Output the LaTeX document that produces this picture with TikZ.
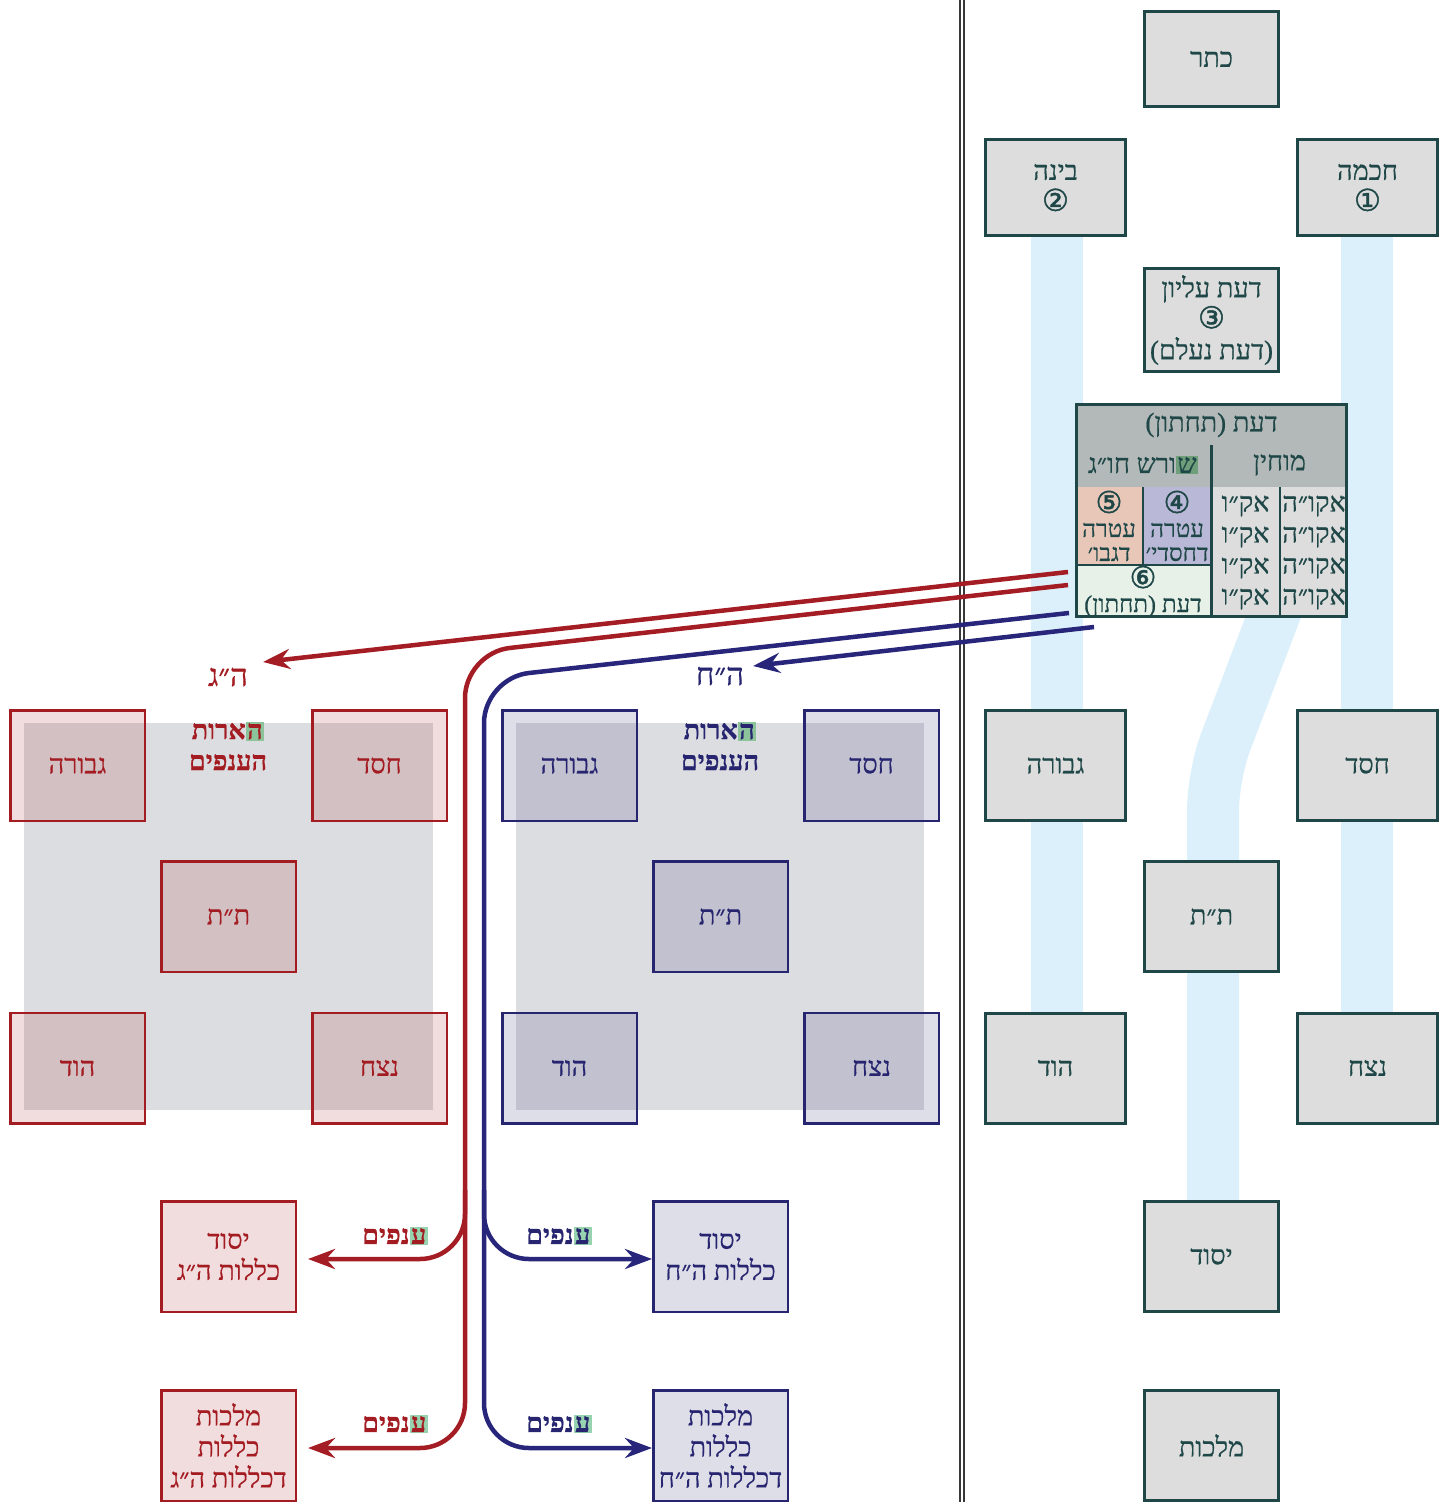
\documentclass[tikz,border=0pt]{standalone}
\usepackage{fontspec}
\usetikzlibrary{arrows.meta}
\TeXXeTstate=1
\newfontfamily\heb[Script=Hebrew, FakeBold=0.6]{Liberation Serif}
\newfontface\cnum[FakeBold=1.6]{DejaVu Sans}
\newcommand\heR[1]{\beginR#1\endR}
\newcommand\hlbox[2]{{\setlength{\fboxsep}{1.5pt}\colorbox{#1}{#2}}}
\newcommand\mainsize{\fontsize{27}{31}\selectfont}
\newcommand\cellsize{\fontsize{24}{24}\selectfont}
\newcommand\numsize{\fontsize{30}{31}\selectfont}
\newcommand\lblsize{\fontsize{31}{31}\selectfont}
\definecolor{tdark}{HTML}{1F4747}
\definecolor{boxgray}{HTML}{DDDDDD}
\definecolor{hdrgray}{HTML}{B3B8B8}
\definecolor{pillarblue}{HTML}{DBF0FB}
\definecolor{redc}{HTML}{A31C22}
\definecolor{bluec}{HTML}{27256F}
\definecolor{redl}{HTML}{A51D24}
\definecolor{bluel}{HTML}{28267A}
\definecolor{bggray}{HTML}{DCDDE0}
\definecolor{cellpink}{HTML}{E8C7B8}
\definecolor{celllav}{HTML}{B9B8D7}
\definecolor{cellgreen}{HTML}{E7F1E8}
\definecolor{hlw}{HTML}{97D3AE}
\definecolor{hlg}{HTML}{8CC39B}
\definecolor{hldark}{HTML}{6E9E7A}
\definecolor{divgray}{HTML}{383838}
\tikzset{
  sef/.style={draw=tdark, line width=3pt, fill=boxgray, text=tdark, align=center,
    font=\heb\mainsize, inner sep=0pt},
  sefwide/.style={sef, minimum width=140pt, minimum height=110pt},
  sefnarrow/.style={sef, minimum width=134pt, minimum height=110pt},
  redbox/.style={draw=redc, line width=2.5pt, fill=redc, fill opacity=0.15, text opacity=1,
    text=redc, align=center, font=\heb\mainsize, inner sep=0pt,
    minimum width=134.5pt, minimum height=110.5pt},
  bluebox/.style={draw=bluec, line width=2.5pt, fill=bluec, fill opacity=0.15, text opacity=1,
    text=bluec, align=center, font=\heb\mainsize, inner sep=0pt,
    minimum width=134.5pt, minimum height=110.5pt},
  tabtext/.style={text=tdark, align=center, font=\heb\mainsize, inner sep=0pt},
  cellbox/.style={inner sep=0pt, text=tdark, align=center},
  lbl/.style={align=center, font=\heb\mainsize, inner sep=0pt},
  redline/.style={draw=redl, line width=4.5pt},
  blueline/.style={draw=bluel, line width=4.5pt},
  arrowtip/.style={-{Stealth[length=27pt,width=20pt,inset=9pt]}}
}
\begin{document}
\begin{tikzpicture}[x=1pt,y=-1pt]
\useasboundingbox[fill=white] (0,0) rectangle (1450,1502);

% pillars
\fill[pillarblue] (1031,187) rectangle (1083,1068);
\fill[pillarblue] (1341,187) rectangle (1393,1068);
\draw[pillarblue, line width=52pt, rounded corners=35pt] (1292,568) -- (1213,775) -- (1213,1256);

% divider
\draw[double=white, double distance=2.5pt, line width=1.6pt, draw=divgray] (962,0) -- (962,1502);

% right column
\node[sef, minimum width=134pt, minimum height=95pt] (keter) at (1211.5,59) {\heR{כתר}};
\node[sef, minimum width=140pt, minimum height=96pt] (bina) at (1055.5,187.5) {\heR{בינה}\\{\cnum\numsize ②}};
\node[sef, minimum width=140pt, minimum height=96pt] (chochma) at (1367.5,187.5) {\heR{חכמה}\\{\cnum\numsize ①}};
\node[sef, minimum width=134pt, minimum height=103pt] (daatE) at (1211.5,320) {\heR{דעת עליון}\\{\cnum\numsize ③}\\\heR{(דעת נעלם)}};

% daat table
\node[fill=hdrgray, minimum width=273pt, minimum height=84pt, inner sep=0pt] (daatHdr) at (1211.5,445) {};
\node[tabtext] (daatTitle) at (1211.5,425) {\heR{דעת (תחתון)}};
\node[tabtext] (shoresh) at (1143,465) {\heR{ורש חו״ג}\hlbox{hldark}{ש}};
\node[tabtext] (mochin) at (1279.5,465) {\heR{מוחין}};
\node[cellbox, fill=cellpink, minimum width=68pt, minimum height=78pt, font=\heb\cellsize] (c5) at (1109,526) {{\cnum\numsize ⑤}\\\heR{עטרה}\\\heR{דגבו׳}};
\node[cellbox, fill=celllav, minimum width=68pt, minimum height=78pt, font=\heb\cellsize] (c4) at (1177,526) {{\cnum\numsize ④}\\\heR{עטרה}\\\heR{דחסדי׳}};
\node[cellbox, fill=cellgreen, minimum width=136pt, minimum height=53pt, font=\heb\cellsize] (c6) at (1143,591.5) {{\cnum\numsize ⑥}\\\heR{דעת (תחתון)}};
\node[cellbox, fill=boxgray, minimum width=69pt, minimum height=131pt, font=\heb\mainsize] (cA) at (1245.5,552.5) {\heR{אק״ו}\\\heR{אק״ו}\\\heR{אק״ו}\\\heR{אק״ו}};
\node[cellbox, fill=boxgray, minimum width=68pt, minimum height=131pt, font=\heb\mainsize] (cB) at (1314,552.5) {\heR{אקו״ה}\\\heR{אקו״ה}\\\heR{אקו״ה}\\\heR{אקו״ה}};
\draw[tdark, line width=3pt] (1211,445) -- (1211,618);
\draw[tdark, line width=2pt] (1280,487) -- (1280,618);
\draw[tdark, line width=2pt] (1143,487) -- (1143,565);
\draw[tdark, line width=2pt] (1075,565) -- (1211,565);
\node[draw=tdark, line width=3pt, minimum width=270pt, minimum height=212pt, inner sep=0pt] (daat) at (1211.5,510.5) {};

\node[sefwide] (gvura) at (1055.5,765.5) {\heR{גבורה}};
\node[sefwide] (chesed) at (1367.5,765.5) {\heR{חסד}};
\node[sefnarrow] (tt) at (1211.5,916.5) {\heR{ת״ת}};
\node[sefwide] (hod) at (1055.5,1068) {\heR{הוד}};
\node[sefwide] (netzach) at (1367.5,1068) {\heR{נצח}};
\node[sefnarrow] (yesod) at (1211.5,1256.5) {\heR{יסוד}};
\node[sefnarrow] (malchut) at (1211.5,1445.5) {\heR{מלכות}};

% red group
\fill[bggray] (24,723) rectangle (433,1110);
\node[redbox] (gvR) at (77.5,765.5) {\heR{גבורה}};
\node[redbox] (chR) at (379.5,765.5) {\heR{חסד}};
\node[redbox] (ttR) at (228.5,916.5) {\heR{ת״ת}};
\node[redbox] (hodR) at (77.5,1068) {\heR{הוד}};
\node[redbox] (ntR) at (379.5,1068) {\heR{נצח}};
\node[redbox] (ysR) at (228.5,1256.5) {\heR{יסוד}\\\heR{כללות ה״ג}};
\node[redbox] (mlR) at (228.5,1445.5) {\heR{מלכות}\\\heR{כללות}\\\heR{דכללות ה״ג}};
\node[lbl, text=redc, font=\heb\mainsize\bfseries] (hearotR) at (228,746) {\heR{ארות}\hlbox{hlg}{ה}\\\heR{הענפים}};
\node[lbl, text=redc, font=\heb\lblsize] (hgLabel) at (228,677) {\heR{ה״ג}};
\node[lbl, text=redc, font=\heb\mainsize\bfseries] (anafR1) at (395,1236) {\heR{נפים}\hlbox{hlw}{ע}};
\node[lbl, text=redc, font=\heb\mainsize\bfseries] (anafR2) at (395,1424) {\heR{נפים}\hlbox{hlw}{ע}};

% blue group
\fill[bggray] (516,723) rectangle (924,1110);
\node[bluebox] (gvB) at (569.5,765.5) {\heR{גבורה}};
\node[bluebox] (chB) at (871.5,765.5) {\heR{חסד}};
\node[bluebox] (ttB) at (720.5,916.5) {\heR{ת״ת}};
\node[bluebox] (hodB) at (569.5,1068) {\heR{הוד}};
\node[bluebox] (ntB) at (871.5,1068) {\heR{נצח}};
\node[bluebox] (ysB) at (720.5,1256.5) {\heR{יסוד}\\\heR{כללות ה״ח}};
\node[bluebox] (mlB) at (720.5,1445.5) {\heR{מלכות}\\\heR{כללות}\\\heR{דכללות ה״ח}};
\node[lbl, text=bluec, font=\heb\mainsize\bfseries] (hearotB) at (720,746) {\heR{ארות}\hlbox{hlg}{ה}\\\heR{הענפים}};
\node[lbl, text=bluec, font=\heb\lblsize] (hchLabel) at (720,676) {\heR{ה״ח}};
\node[lbl, text=bluec, font=\heb\mainsize\bfseries] (anafB1) at (559,1236) {\heR{נפים}\hlbox{hlw}{ע}};
\node[lbl, text=bluec, font=\heb\mainsize\bfseries] (anafB2) at (559,1424) {\heR{נפים}\hlbox{hlw}{ע}};

% connector coordinates
\coordinate (rs1) at (1068,572);
\coordinate (rs2) at (1068,585);
\coordinate (bs1) at (1069,613);
\coordinate (bs2) at (1094,627);
\coordinate (rt1) at (263,662);
\coordinate (bt2) at (753,666);
\coordinate (rc) at (465,653);
\coordinate (bc) at (484,678);
\coordinate (rbr) at (465,1190);
\coordinate (bbr) at (484,1190);
\coordinate (rk1) at (465,1259);
\coordinate (rk2) at (465,1448);
\coordinate (bk1) at (484,1259);
\coordinate (bk2) at (484,1448);
\coordinate (ysRin) at (308,1259);
\coordinate (mlRin) at (308,1448);
\coordinate (ysBin) at (652,1259);
\coordinate (mlBin) at (652,1448);

% red connectors
\draw[redline, arrowtip] (rs1) -- (rt1);
\draw[redline, arrowtip, rounded corners=45pt] (rs2) -- (rc) -- (rk2) -- (mlRin);
\draw[redline, arrowtip, rounded corners=45pt] (rbr) -- (rk1) -- (ysRin);
% blue connectors
\draw[blueline, arrowtip] (bs2) -- (bt2);
\draw[blueline, arrowtip, rounded corners=45pt] (bs1) -- (bc) -- (bk2) -- (mlBin);
\draw[blueline, arrowtip, rounded corners=45pt] (bbr) -- (bk1) -- (ysBin);
\end{tikzpicture}
\end{document}
